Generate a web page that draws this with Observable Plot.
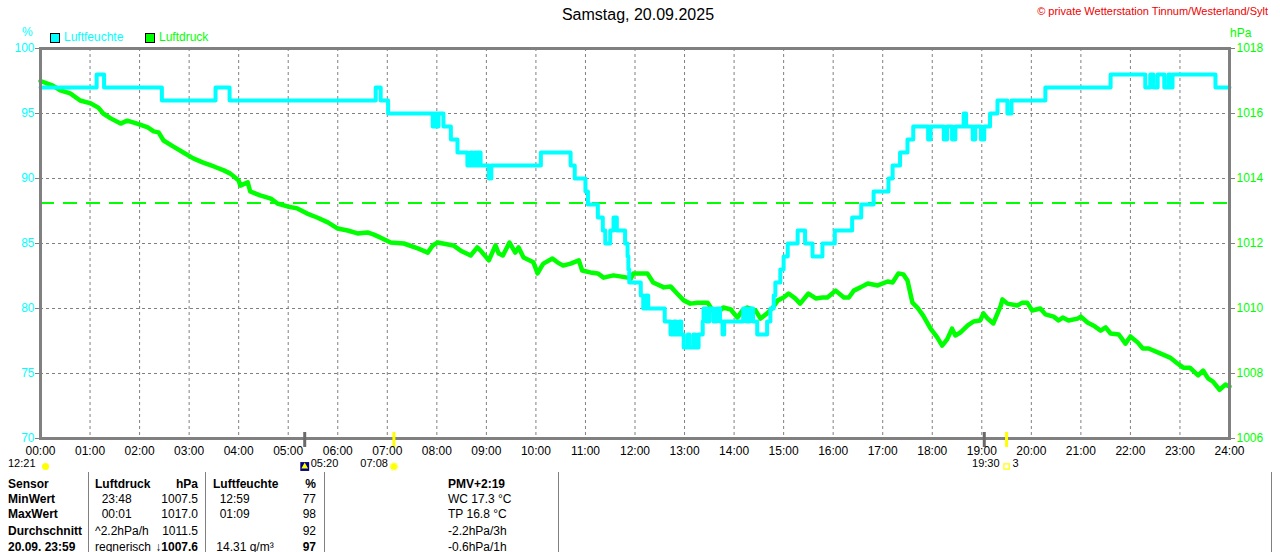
<!DOCTYPE html>
<html><head><meta charset="utf-8">
<script src="https://cdn.jsdelivr.net/npm/d3@7"></script>
<script src="https://cdn.jsdelivr.net/npm/@observablehq/plot@0.6"></script>
<style>
body{margin:0;background:#fff;font-family:"Liberation Sans",Arial,sans-serif;}
#wrap{position:relative;width:1280px;height:552px;overflow:hidden;background:#fff;}
.abs{position:absolute;white-space:pre;line-height:15px;}
#chart{position:absolute;left:0;top:26px;}
</style></head><body><div id="wrap"><div id="chart"></div></div>
<script>
// ---------- texts ----------
const titleText = "Samstag, 20.09.2025";
const copyrightText = "\u00A9 private Wetterstation Tinnum/Westerland/Sylt";
const seriesNames = ["Luftfeuchte", "Luftdruck"];
const unitLeft = "%";
const unitRight = "hPa";

// ---------- scales / ticks ----------
const hourTicks = d3.range(0, 25);
const humDomain = [70, 100];
const humTicks = [70, 75, 80, 85, 90, 95, 100];
const pressDomain = [1006, 1018];
const pressTicks = [1006, 1008, 1010, 1012, 1014, 1016, 1018];
const refPressure = 1013.25;

// ---------- humidity (%) step series ----------
const humTime = ["00:00","01:08","01:17","02:27","03:32","03:49","06:46","06:52","07:01","07:55","07:57","08:00","08:02","08:08","08:17","08:25","08:37","08:41","08:43","08:46","08:48","08:50","08:53","09:03","09:06","10:06","10:42","10:47","11:00","11:03","11:15","11:21","11:24","11:30","11:34","11:38","11:48","11:51","11:52","11:53","12:07","12:10","12:13","12:16","12:36","12:43","12:47","12:50","12:54","12:56","12:59","13:04","13:06","13:11","13:13","13:17","13:22","13:23","13:27","13:30","13:35","13:39","13:43","13:46","13:48","14:11","14:15","14:19","14:23","14:28","14:40","14:44","14:48","14:50","14:56","15:00","15:05","15:17","15:26","15:35","15:47","16:02","16:23","16:34","16:49","17:07","17:12","17:21","17:30","17:37","17:55","17:58","18:14","18:18","18:24","18:28","18:38","18:41","18:49","18:52","18:59","19:03","19:10","19:19","19:31","19:36","20:17","21:36","22:18","22:24","22:28","22:33","22:41","22:46","22:48","22:51","23:43","24:00"];
const humValue = [97,98,97,96,97,96,97,96,95,94,95,94,95,94,93,92,91,92,91,92,91,92,91,90,91,92,91,90,89,88,87,86,85,86,87,86,85,84,83,82,81,80,81,80,79,78,79,78,79,78,77,78,77,78,77,78,79,80,79,80,79,80,79,78,79,80,79,80,79,78,79,80,81,82,83,84,85,86,85,84,85,86,87,88,89,90,91,92,93,94,93,94,93,94,93,94,95,94,93,94,93,94,95,96,95,96,97,98,97,98,97,98,97,98,97,98,97,97];

// ---------- pressure (hPa) ----------
const pressTime = ["00:00","00:15","00:24","00:36","00:48","01:01","01:10","01:16","01:25","01:37","01:45","01:57","02:10","02:17","02:23","02:29","02:41","02:53","03:05","03:17","03:30","03:42","03:50","04:00","04:02","04:11","04:14","04:26","04:39","04:47","04:59","05:11","05:23","05:35","05:48","06:00","06:12","06:24","06:36","06:43","06:52","07:04","07:20","07:37","07:49","07:55","08:01","08:20","08:29","08:41","08:49","08:53","09:03","09:11","09:15","09:20","09:28","09:35","09:39","09:45","09:57","10:02","10:06","10:09","10:20","10:26","10:33","10:42","10:52","10:56","11:06","11:15","11:22","11:34","11:51","11:55","11:58","12:15","12:22","12:35","12:43","12:51","12:59","13:07","13:16","13:28","13:34","13:43","13:47","13:56","14:04","14:10","14:16","14:26","14:32","14:40","14:47","14:53","15:00","15:06","15:14","15:20","15:30","15:39","15:47","15:53","16:03","16:13","16:19","16:25","16:33","16:42","16:54","17:06","17:12","17:19","17:25","17:30","17:36","17:42","17:49","17:58","18:06","18:12","18:18","18:24","18:28","18:34","18:43","18:50","18:58","19:02","19:07","19:14","19:23","19:25","19:31","19:43","19:49","19:55","20:01","20:11","20:17","20:27","20:33","20:38","20:45","20:56","21:00","21:08","21:15","21:24","21:30","21:36","21:46","21:54","22:00","22:09","22:15","22:22","22:36","22:48","22:57","23:04","23:12","23:22","23:28","23:34","23:40","23:48","23:55","24:00"];
const pressValue = [1017.0,1016.86,1016.71,1016.62,1016.40,1016.31,1016.18,1016.00,1015.85,1015.69,1015.78,1015.69,1015.57,1015.45,1015.42,1015.17,1014.98,1014.80,1014.62,1014.49,1014.37,1014.25,1014.15,1013.94,1013.78,1013.88,1013.60,1013.48,1013.38,1013.23,1013.14,1013.08,1012.92,1012.80,1012.65,1012.46,1012.40,1012.31,1012.34,1012.28,1012.18,1012.03,1012.00,1011.85,1011.72,1011.94,1012.03,1011.94,1011.78,1011.63,1011.88,1011.78,1011.48,1011.94,1011.69,1011.63,1012.03,1011.72,1011.88,1011.57,1011.42,1011.08,1011.26,1011.38,1011.54,1011.42,1011.32,1011.38,1011.48,1011.17,1011.11,1011.08,1010.95,1011.02,1010.95,1010.92,1011.08,1011.08,1010.80,1010.65,1010.68,1010.46,1010.25,1010.15,1010.18,1010.18,1009.94,1009.94,1010.03,1009.97,1009.72,1009.94,1010.03,1009.94,1009.69,1009.85,1010.03,1010.25,1010.34,1010.46,1010.31,1010.15,1010.46,1010.31,1010.34,1010.34,1010.55,1010.34,1010.34,1010.55,1010.65,1010.77,1010.71,1010.83,1010.80,1011.08,1011.05,1010.86,1010.18,1010.03,1009.78,1009.38,1009.11,1008.86,1009.05,1009.38,1009.17,1009.26,1009.48,1009.60,1009.63,1009.85,1009.69,1009.54,1010.09,1010.28,1010.15,1010.09,1010.18,1010.18,1009.94,1010.00,1009.82,1009.75,1009.63,1009.72,1009.63,1009.69,1009.75,1009.57,1009.48,1009.32,1009.42,1009.23,1009.20,1008.92,1009.14,1008.95,1008.77,1008.77,1008.62,1008.49,1008.31,1008.18,1008.18,1007.94,1008.09,1007.85,1007.75,1007.50,1007.66,1007.60];

// ---------- sun / moon events ----------
const markTime = ["05:20","07:08","19:03","19:30"];
const markKind = ["moon","sun","moon","sun"];
const astroTime = ["00:00","05:20","07:08","19:30","19:30"];
const astroText = ["12:21","05:20","07:08","19:30","3"];

// ---------- table ----------
const tableHeader = ["Sensor","Luftdruck","hPa","Luftfeuchte","%","PMV+2:19"];
const tableRows = [
  ["MinWert","  23:48","1007.5","  12:59","77","WC 17.3 \u00B0C"],
  ["MaxWert","  00:01","1017.0","  01:09","98","TP 16.8 \u00B0C"],
  ["Durchschnitt","^2.2hPa/h","1011.5","","92","-2.2hPa/3h"],
  ["20.09. 23:59","regnerisch","\u21931007.6"," 14.31 g/m\u00B3","97","-0.6hPa/1h"]
];

// ---------- helpers ----------
const toHours = s => { const [h, m] = s.split(":").map(Number); return h + m / 60; };
const pToH = p => humDomain[0] + (p - pressDomain[0]) * (humDomain[1] - humDomain[0]) / (pressDomain[1] - pressDomain[0]);
const hToP = h => pressDomain[0] + (h - humDomain[0]) * (pressDomain[1] - pressDomain[0]) / (humDomain[1] - humDomain[0]);

const humData = humTime.map((t, i) => ({t: toHours(t), v: humValue[i]}));
const pressData = pressTime.map((t, i) => ({t: toHours(t), v: pToH(pressValue[i])}));
const marks = markTime.map((t, i) => ({t: toHours(t), kind: markKind[i]}));
const astroStyle = [
  {anchor: "end", dx: -5}, {anchor: "start", dx: 6}, {anchor: "end", dx: -6},
  {anchor: "end", dx: -7}, {anchor: "start", dx: 6}
];

const CYAN = "#00ffff", GREEN = "#00ff00", GRAY = "#808080";
const fontFam = "'Liberation Sans', Arial, sans-serif";
const ASTRO_DY = 28;

const plot = Plot.plot({
  width: 1280,
  height: 446,
  marginTop: 22,
  marginBottom: 34,
  marginLeft: 40,
  marginRight: 51,
  style: {fontFamily: fontFam, fontSize: "12px", background: "transparent", overflow: "visible"},
  x: {domain: [0, 24]},
  y: {domain: humDomain},
  marks: [
    Plot.gridY(humTicks, {stroke: GRAY, strokeOpacity: 1, strokeDasharray: "3,3"}),
    Plot.gridX(hourTicks, {stroke: GRAY, strokeOpacity: 1, strokeDasharray: "3,3"}),
    Plot.ruleY([pToH(refPressure)], {stroke: GREEN, strokeWidth: 2, strokeDasharray: "14,9"}),
    Plot.line(pressData, {x: "t", y: "v", stroke: GREEN, strokeWidth: 4.5}),
    Plot.line(humData, {x: "t", y: "v", curve: "step-after", stroke: CYAN, strokeWidth: 4}),
    Plot.frame({stroke: GRAY, strokeWidth: 3}),
    Plot.ruleX(marks, {x: "t", stroke: d => d.kind === "sun" ? "#ffff00" : "#6a6a6a", strokeWidth: 3, insetTop: 384, insetBottom: -9}),
    Plot.axisY(humTicks, {anchor: "left", tickSize: 5, tickPadding: 1, stroke: GRAY, fill: CYAN, label: null, fontSize: 12}),
    Plot.axisY(pressTicks.map(pToH), {anchor: "right", tickSize: 5, tickPadding: 2, stroke: GRAY, fill: GREEN, label: null, fontSize: 12,
      tickFormat: d => hToP(d).toFixed(0)}),
    Plot.axisX(hourTicks, {anchor: "bottom", tickSize: 0, tickPadding: 8, fill: "black", label: null, fontSize: 12,
      tickFormat: h => String(h).padStart(2, "0") + ":00"}),
    // astro labels
    ...astroTime.map((t, i) => Plot.text([astroText[i]], {x: () => toHours(t), frameAnchor: "bottom", dy: ASTRO_DY,
      text: d => d, textAnchor: astroStyle[i].anchor, dx: astroStyle[i].dx, fill: "black", fontSize: 11})),
    // icons
    Plot.dot([toHours(astroTime[0])], {x: d => d, frameAnchor: "bottom", dy: ASTRO_DY, dx: 5, r: 3.5, fill: "#ffff00"}),
    Plot.dot([toHours(astroTime[1])], {x: d => d, frameAnchor: "bottom", dy: ASTRO_DY, symbol: "square", r: 5, fill: "#000080"}),
    Plot.dot([toHours(astroTime[1])], {x: d => d, frameAnchor: "bottom", dy: ASTRO_DY, symbol: "triangle", r: 2.5, fill: "#ffff00"}),
    Plot.dot([toHours(astroTime[2])], {x: d => d, frameAnchor: "bottom", dy: ASTRO_DY, r: 3.5, fill: "#ffff00", stroke: "#ffff66", strokeWidth: 2, strokeDasharray: "1.5,1.5"}),
    Plot.dot([toHours(astroTime[3])], {x: d => d, frameAnchor: "bottom", dy: ASTRO_DY, symbol: "square", r: 3, fill: "none", stroke: "#ffff00", strokeWidth: 1.2})
  ]
});
document.getElementById("chart").appendChild(plot);

// ---------- HTML texts ----------
const wrap = document.getElementById("wrap");
function addText(txt, css) {
  const d = document.createElement("div");
  d.className = "abs";
  d.textContent = txt;
  Object.assign(d.style, css);
  wrap.appendChild(d);
  return d;
}
addText(titleText, {left: "0px", width: "1276px", textAlign: "center", top: "5px", fontSize: "16px", lineHeight: "20px", color: "#000"});
addText(copyrightText, {right: "12px", top: "4px", fontSize: "11px", color: "#ee0000"});
addText(unitLeft, {left: "22px", top: "25px", fontSize: "12px", color: CYAN});
addText(unitRight, {left: "1230px", top: "26px", fontSize: "12px", color: GREEN});
// legend
const legendColors = [CYAN, GREEN];
const legendX = [50, 145];
seriesNames.forEach((n, i) => {
  const b = document.createElement("div");
  Object.assign(b.style, {position: "absolute", left: legendX[i] + "px", top: "33px", width: "8px", height: "8px",
    background: legendColors[i], border: "1px solid #000"});
  wrap.appendChild(b);
  addText(n, {left: (legendX[i] + 14) + "px", top: "30px", fontSize: "12px", color: legendColors[i]});
});

// ---------- table ----------
const colX = [8, 95, 198, 213, 316, 448];
const colAlign = ["left", "left", "right", "left", "right", "left"];
const rowY = [477, 492, 507, 524, 540];
const allRows = [tableHeader, ...tableRows];
allRows.forEach((row, r) => {
  row.forEach((cell, c) => {
    if (!cell) return;
    const bold = r === 0 || c === 0 || (r === allRows.length - 1 && (c === 2 || c === 4));
    const css = {top: rowY[r] + "px", fontSize: "12px", color: "#000", fontWeight: bold ? "bold" : "normal"};
    if (colAlign[c] === "left") css.left = colX[c] + "px";
    else css.right = (1280 - colX[c]) + "px";
    addText(cell, css);
  });
});
const sepX = [88, 205, 324, 558, 1271];
sepX.forEach(x => {
  const l = document.createElement("div");
  Object.assign(l.style, {position: "absolute", left: x + "px", top: "472px", width: "1px", height: "80px", background: GRAY});
  wrap.appendChild(l);
});
</script></body></html>
